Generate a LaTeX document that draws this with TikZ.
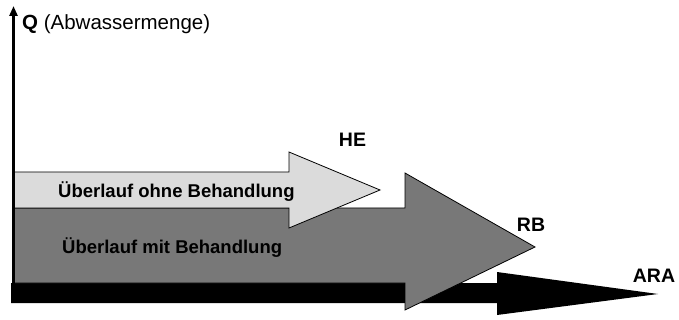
\documentclass[tikz,border=0pt]{standalone}
\usepackage{fontspec}
\setmainfont{Liberation Sans}
\usetikzlibrary{arrows.meta}
\definecolor{lightflow}{gray}{0.86}
\definecolor{darkflow}{gray}{0.47}
\tikzset{
flow/.style={draw=black,line width=0.8pt,line join=miter},
flowlabel/.style={font=\fontsize{19.5}{22}\selectfont\bfseries,inner sep=0pt,anchor=base},
inlabel/.style={font=\fontsize{18.5}{22}\selectfont\bfseries,inner sep=0pt,anchor=base west},
}

\begin{document}
\begin{tikzpicture}[x=1pt,y=-1pt]
\useasboundingbox (0,0) rectangle (679,320);
% the flows, back to front
\fill[black] (11,283) -- (497,283) -- (497,272) -- (658,294) -- (497,315) -- (497,303) -- (11,303) -- cycle;
\draw[flow,fill=darkflow] (14,208) -- (405,208) -- (405,173) -- (535,247) -- (405,310) -- (405,283) -- (14,283) -- cycle;
\draw[flow,fill=lightflow] (14,172) -- (289,172) -- (289,152) -- (380,190) -- (289,228) -- (289,208) -- (14,208) -- cycle;
% the axis
\draw[line width=3pt,-{Triangle[length=10pt,width=8pt]}] (13.5,303) -- (13.5,6);
% the labels
\node[inlabel,font=\fontsize{20.5}{24}\selectfont] (q) at (22,30) {\textbf{Q} (Abwassermenge)};
\node[flowlabel] (he) at (352.5,147) {HE};
\node[flowlabel] (rb) at (531,232) {RB};
\node[flowlabel] (ara) at (654,282) {ARA};
\node[inlabel] (ohne) at (58,198) {Überlauf ohne Behandlung};
\node[inlabel] (mit) at (62,253) {Überlauf mit Behandlung};
\end{tikzpicture}
\end{document}
